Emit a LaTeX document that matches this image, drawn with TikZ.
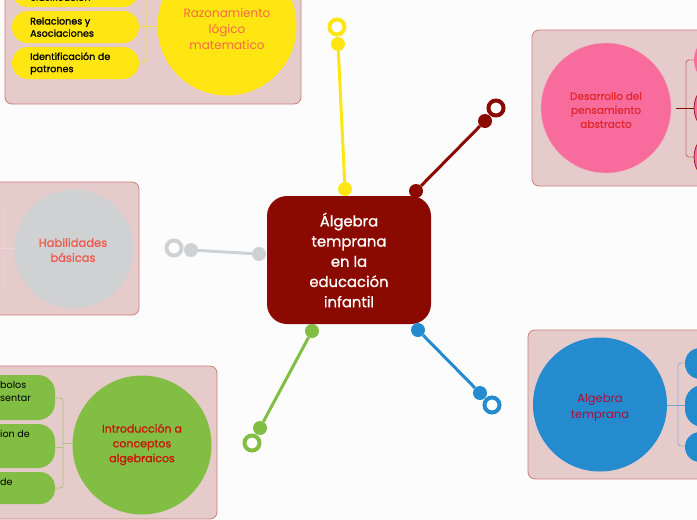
\documentclass[tikz,border=0pt]{standalone}
\usepackage{fontspec}
\setmainfont{Poppins}
\newfontfamily\semifont[FakeBold=1]{Poppins}
\usepackage{xcolor}
\definecolor{boxfill}{HTML}{E6CBCB}
\definecolor{boxline}{HTML}{CC7F7A}
\definecolor{rootred}{HTML}{8B0A00}
\definecolor{mapyellow}{HTML}{FFE512}
\definecolor{mappink}{HTML}{F76C9C}
\definecolor{mapgrey}{HTML}{CFD1D3}
\definecolor{mapgreen}{HTML}{82BD44}
\definecolor{mapblue}{HTML}{248BCF}
\definecolor{razontext}{HTML}{F96A48}
\definecolor{habiltext}{HTML}{EC5A4E}
\definecolor{desartext}{HTML}{E0282E}
\definecolor{introtext}{HTML}{C8140A}
\definecolor{algebtext}{HTML}{AE0C38}
\tikzset{
  panel/.style={draw=boxline, fill=boxfill, line width=0.8pt, rounded corners=7pt},
  topic/.style={circle, inner sep=0pt, minimum size=#1},
  topictext/.style={align=center, inner sep=0pt},
  pilltext/.style={font=\fontsize{9.6}{12.2}\selectfont\semifont, align=left, anchor=west, inner sep=0pt, text=black},
  branch/.style={line width=3pt},
  knob/.style={circle, inner sep=0pt, minimum size=14pt},
  ringend/.style={circle, inner sep=0pt, minimum size=15pt, fill=white, line width=4pt},
  bracket/.style={line width=0.9pt, rounded corners=3pt}
}
\begin{document}
\begin{tikzpicture}[x=1pt, y=-1pt]
\useasboundingbox (0,0) rectangle (697,520);
\clip (0,0) rectangle (697,520);
\fill[white!99!black] (0,0) rectangle (697,520);

% Panels
\draw[panel] (5,-20) rectangle (301,104);
\draw[panel] (-20,182) rectangle (139,315);
\draw[panel] (-20,366) rectangle (217,519);
\draw[panel] (532,30) rectangle (720,186);
\draw[panel] (528,330) rectangle (720,479);

% Razonamiento side
\draw[bracket, draw=mapyellow!70!boxfill] (139,26) -- (157,26);
\draw[bracket, draw=mapyellow!70!boxfill] (139,-10) -- (147,-10) -- (147,62) -- (139,62);
\fill[mapyellow, rounded corners=16pt] (12,-25) rectangle (139,7);
\fill[mapyellow, rounded corners=16pt] (12,11) rectangle (139,43);
\fill[mapyellow, rounded corners=16pt] (12,47) rectangle (139,79);
\node[pilltext] (clasif) at (30,-3) {clasificación};
\node[pilltext] (relac) at (30,27) {Relaciones y\\Asociaciones};
\node[pilltext] (ident) at (30,63.5) {Identificación de\\patrones};
\node[topic=139pt, fill=mapyellow] (razon) at (227,26) {};
\node[topictext, text=razontext, font=\fontsize{12}{16}\selectfont] (razontxt) at (227,29) {Razonamiento\\lógico\\matematico};

% Habilidades side
\draw[bracket, draw=boxfill!80!white] (0,209) -- (5,209) -- (5,287) -- (0,287);
\draw[bracket, draw=boxfill!80!white] (0,248) -- (15,248);
\node[topic=119pt, fill=mapgrey] (habil) at (74,249) {};
\node[topictext, text=habiltext, font=\fontsize{11.5}{15}\selectfont\semifont] (habiltxt) at (73,250) {Habilidades\\básicas};

% Introduccion side
\draw[bracket, draw=mapgreen!55!boxfill] (55,398) -- (63,398) -- (63,488) -- (55,488);
\draw[bracket, draw=mapgreen!55!boxfill] (55,447) -- (63,447);
\draw[bracket, draw=mapgreen!55!boxfill] (63,443) -- (73,443);
\fill[mapgreen, rounded corners=17pt] (-30,375) rectangle (55,420);
\fill[mapgreen, rounded corners=17pt] (-30,424) rectangle (55,468);
\fill[mapgreen, rounded corners=15pt] (-30,472) rectangle (55,504);
\node[pilltext, font=\fontsize{9.6}{13}\selectfont] (simb) at (0,391.5) {bolos\\sentar};
\node[pilltext, font=\fontsize{9.6}{13}\selectfont] (funci) at (0,434) {ion de};
\node[pilltext, font=\fontsize{9.6}{13}\selectfont] (uso) at (0,482) {de};
\node[topic=139pt, fill=mapgreen] (intro) at (142,445) {};
\node[topictext, text=introtext, font=\fontsize{11}{14.8}\selectfont\semifont] (introtxt) at (142,444.5) {Introducción a\\conceptos\\algebraicos};

% Desarrollo side
\draw[bracket, draw=rootred!45!boxfill] (697,60) -- (686,60) -- (686,157) -- (697,157);
\draw[bracket, draw=rootred] (676,108) -- (697,108);
\node[topic=130pt, fill=mappink, draw=mappink!35!boxfill] (desarr) at (606,108) {};
\node[topictext, text=desartext, font=\fontsize{10.5}{14}\selectfont\semifont] (desartxt) at (606,110) {Desarrollo del\\pensamiento\\abstracto};
\fill[mappink] (721,60) circle (27pt);
\foreach \ypill in {108,157} {
  \filldraw[fill=mappink, draw=rootred!80!mappink, line width=0.8pt] (721,\ypill) circle (27pt);
}

% Algebra side
\draw[bracket, draw=mapblue!40!boxfill] (685,363) -- (678,363) -- (678,446) -- (685,446);
\draw[bracket, draw=mapblue!60!boxfill] (667,405) -- (685,405);
\node[topic=134pt, fill=mapblue] (algeb) at (600,404.5) {};
\node[topictext, text=algebtext, font=\fontsize{11.5}{16}\selectfont] (algebtxt) at (600,408) {Algebra\\temprana};
\fill[mapblue, rounded corners=15pt] (685,348) rectangle (740,379);
\fill[mapblue, rounded corners=18pt] (685,385) rectangle (740,427);
\fill[mapblue, rounded corners=15pt] (685,432) rectangle (740,462);

% Branches
\foreach \name/\col/\ax/\ay/\bx/\by/\cx/\cy in {%
  yel/mapyellow/345/189/338/44/337/27,
  red/rootred/416/191/485/121/496/108,
  gry/mapgrey/259/254/191/250/174/248,
  grn/mapgreen/312/331/260/428/252/443,
  blu/mapblue/418/330/480/393/492/405} {
  \node[knob, fill=\col] (\name a) at (\ax,\ay) {};
  \node[knob, fill=\col] (\name b) at (\bx,\by) {};
  \node[ringend, draw=\col] (\name c) at (\cx,\cy) {};
  \draw[branch, draw=\col] (\name a) -- (\name b);
}

% Root
\node[fill=rootred, rounded corners=20pt, minimum width=164pt, minimum height=128pt, inner sep=0pt, text=white, align=center, font=\fontsize{14.8}{20.2}\selectfont\semifont] (root) at (349,260) {Álgebra\\temprana\\en la\\educación\\infantil};
\end{tikzpicture}
\end{document}
